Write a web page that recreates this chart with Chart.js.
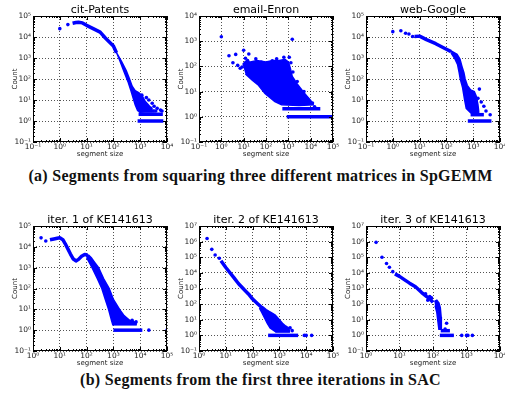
<!DOCTYPE html>
<html>
<head>
<meta charset="utf-8">
<script src="https://cdn.jsdelivr.net/npm/chart.js@4"></script>
<style>
  body { margin: 0; background: #fff; }
  #page { position: relative; width: 505px; height: 400px; overflow: hidden; background: #fff; }
  .box { position: absolute; }
  .ttl { position: absolute; width: 134px; height: 14px; line-height: 14px; text-align: center;
         font: 11px "DejaVu Sans"; color: #000; white-space: nowrap; }
  .cap { position: absolute; left: 8px; width: 505px; height: 18px; line-height: 18px; text-align: center;
         font: bold 16px "Liberation Serif"; color: #111; white-space: nowrap; }
  .cap span { display: inline-block; }
</style>
</head>
<body>
<div id="page">
  <div class="cap" style="top:167px"><span data-w="464">(a) Segments from squaring three different matrices in SpGEMM</span></div>
  <div class="cap" style="top:371px"><span data-w="361">(b) Segments from the first three iterations in SAC</span></div>
</div>
<script>
// decade ticks
const xTicksA = [0.1, 1, 10, 100, 1e3, 1e4];
const xTicksB = [0.1, 1, 10, 100, 1e3, 1e4, 1e5];
const xTicksC = [1, 10, 100, 1e3, 1e4, 1e5];
const xTicksD = [1, 10, 100, 1e3, 1e4];
const yTicksA = [0.1, 1, 10, 100, 1e3, 1e4, 1e5];
const yTicksB = [0.1, 1, 10, 100, 1e3, 1e4];
const yTicksC = [0.1, 1, 10, 100, 1e3, 1e4, 1e5, 1e6, 1e7];

// cit-Patents
const citDots = [[1, 2.5e4], [2, 3.9e4], [650, 15], [800, 20], [1150, 17], [1700, 13], [2100, 10],
  [2800, 7], [3300, 5], [4300, 4], [5700, 3.3], [6500, 3], [2500, 4], [3800, 3]];
const citCurve = [[3, 4.5e4], [4, 4.9e4], [5, 5e4], [7, 4.7e4], [10, 3.6e4], [20, 2.3e4],
  [32, 1.7e4], [50, 9e3], [100, 3.7e3], [130, 1.8e3]];
const citBlob = [[130, 1.8e3], [200, 700], [300, 250], [400, 100], [500, 45], [650, 28], [900, 22],
  [1200, 15], [1500, 9], [2000, 6], [2600, 4], [2600, 2.8], [1500, 2.8], [1000, 2.6], [800, 3.2],
  [650, 6], [550, 12], [450, 28], [350, 75], [250, 220], [170, 800], [120, 2.4e3]];
const citBands = [[[900, 3], [3500, 3]], [[870, 2.1], [7000, 2.1]], [[800, 1], [7300, 1]]];

// email-Enron
const enronDots = [[1, 1500], [1500, 1200], [2.2, 265], [4.4, 300], [3.3, 140], [5.4, 110], [7, 85],
  [8.5, 95], [10, 440], [12, 210], [17, 310], [15, 170], [25, 140], [35, 200], [62, 150], [190, 165],
  [300, 200], [630, 230], [1100, 230], [1300, 140], [1600, 60], [2500, 25], [5000, 10], [1.2e4, 3.5],
  [1.5e4, 2.5]];
const enronBlob = [[9, 120], [12, 160], [20, 150], [40, 170], [60, 160], [100, 150], [200, 170],
  [400, 170], [700, 190], [1000, 150], [1200, 90], [1500, 40], [2500, 20], [5000, 9], [1e4, 4.5],
  [1.3e4, 3], [3000, 2.8], [500, 3], [250, 4], [90, 8.5], [46, 18], [25, 28], [12, 50]];
const enronBands = [[[540, 2.1], [2.7e4, 2.1]], [[850, 1], [1e5, 1]]];

// web-Google
const webDots = [[1, 1.8e4], [2, 2e4], [3, 1.5e4], [4, 1.4e4], [5.5, 1.05e4], [1700, 33], [4300, 2],
  [2500, 5], [2000, 8], [1500, 12], [3000, 3]];
const webCurve = [[6.5, 1.05e4], [10, 1.1e4], [18, 7.5e3], [40, 4.8e3], [100, 2.6e3], [150, 2e3]];
const webBlob = [[150, 2.2e3], [250, 1.5e3], [320, 900], [380, 400], [450, 200], [500, 100], [600, 50],
  [800, 30], [1100, 25], [1300, 15], [1500, 6], [1600, 3], [1600, 2.5], [800, 2.5], [550, 4],
  [480, 10], [400, 40], [330, 100], [300, 200], [260, 500], [200, 1e3], [150, 1.7e3]];
const webBands = [[[800, 2], [2500, 2]], [[630, 1], [4800, 1]]];

// iter. 1 of KE141613
const it1Dots = [[2, 2.7e4], [3, 1.9e4], [2.1e4, 1], [1e5, 1], [5000, 3], [7000, 2.5]];
const it1Curve = [[4.3, 2.2e4], [6, 2.4e4], [8, 2.6e4], [10, 2.7e4], [13, 2.2e4], [16, 1.4e4],
  [20, 8e3], [25, 4.5e3], [32, 2.6e3], [40, 2.1e3], [50, 2.5e3], [65, 3.5e3], [85, 4.3e3], [110, 4e3]];
const it1Blob = [[90, 4.3e3], [120, 4e3], [150, 3e3], [200, 1.8e3], [280, 1e3], [430, 300], [700, 100],
  [1000, 30], [1700, 10], [2500, 5], [4000, 3], [7000, 2.3], [7000, 1.8], [950, 1.8], [850, 3],
  [660, 10], [500, 30], [370, 100], [250, 300], [160, 1e3], [120, 2e3], [100, 3e3]];
const it1Bands = [[[900, 2.1], [7300, 2.1]], [[1000, 1], [1.2e4, 1]]];

// iter. 2 of KE141613
const it2Dots = [[2, 1.6e6], [3, 3.2e5], [4, 1.4e5], [5.7, 8.7e4], [8500, 1], [1e4, 1], [1.6e4, 1],
  [3000, 2], [2500, 3]];
const it2Curve = [[6.6, 5.9e4], [10, 2.2e4], [20, 5e3], [30, 2e3], [50, 800], [70, 450], [100, 210],
  [150, 110], [200, 70]];
const it2Blob = [[180, 90], [250, 65], [320, 45], [400, 35], [500, 28], [700, 20], [1000, 10],
  [1300, 6], [1700, 4], [2200, 3], [2200, 1.8], [700, 1.8], [450, 3], [350, 6], [280, 13], [220, 30],
  [180, 55]];
const it2Bands = [[[700, 1.9], [2500, 1.9]], [[380, 1], [5000, 1]]];

// iter. 3 of KE141613
const it3Dots = [[2, 9e5], [3, 1e5], [4.1, 4e4], [5, 2.3e4], [6.3, 1.2e4], [255, 6], [230, 2.5],
  [720, 1], [1000, 1], [1100, 1], [1500, 1], [60, 450], [80, 300], [70, 180], [90, 250]];
const it3Curve = [[7.3, 8.6e3], [10, 6e3], [15, 3.3e3], [20, 2.2e3], [30, 1.3e3], [46, 550],
  [65, 300], [80, 220], [100, 130]];
const it3Blob = [[110, 150], [130, 180], [150, 120], [165, 60], [175, 15], [180, 4], [175, 2.5],
  [150, 2.5], [140, 8], [130, 30], [115, 80]];
const it3Bands = [[[170, 2], [320, 2]], [[160, 1], [420, 1]]];

const BLUE = "#0000ff";
const SUP = { "-": "\u207b", "0": "\u2070", "1": "\u00b9", "2": "\u00b2", "3": "\u00b3",
  "4": "\u2074", "5": "\u2075", "6": "\u2076", "7": "\u2077", "8": "\u2078", "9": "\u2079" };

function fmt(v) {
  const e = String(Math.round(Math.log10(v)));
  return "10" + e.split("").map((c) => SUP[c]).join("");
}

const panels = [
  { title: "cit-Patents", left: 33, top: 16, h: 126, xt: xTicksA, yt: yTicksA,
    dots: citDots, curve: citCurve, blob: citBlob, bands: citBands },
  { title: "email-Enron", left: 199, top: 16, h: 126, xt: xTicksB, yt: yTicksB,
    dots: enronDots, curve: null, blob: enronBlob, bands: enronBands },
  { title: "web-Google", left: 366, top: 16, h: 126, xt: xTicksA, yt: yTicksA,
    dots: webDots, curve: webCurve, blob: webBlob, bands: webBands },
  { title: "iter. 1 of KE141613", left: 33, top: 226, h: 125, xt: xTicksC, yt: yTicksA,
    dots: it1Dots, curve: it1Curve, blob: it1Blob, bands: it1Bands },
  { title: "iter. 2 of KE141613", left: 199, top: 226, h: 125, xt: xTicksC, yt: yTicksC,
    dots: it2Dots, curve: it2Curve, blob: it2Blob, bands: it2Bands },
  { title: "iter. 3 of KE141613", left: 366, top: 226, h: 125, xt: xTicksD, yt: yTicksC,
    dots: it3Dots, curve: it3Curve, blob: it3Blob, bands: it3Bands },
];

const toXY = (arr) => arr.map(([x, y]) => ({ x, y }));

// frame with matplotlib-style inward ticks
const framePlugin = {
  id: "frame",
  afterDatasetsDraw(chart) {
    const { ctx, chartArea: a, scales } = chart;
    ctx.save();
    ctx.strokeStyle = "#000";
    ctx.lineWidth = 1;
    ctx.strokeRect(a.left + 0.5, a.top + 0.5, a.right - a.left - 1, a.bottom - a.top - 1);
    ctx.beginPath();
    for (const id of ["x", "y"]) {
      const s = scales[id];
      const lo = Math.round(Math.log10(s.min));
      const hi = Math.round(Math.log10(s.max));
      for (let k = lo; k <= hi; k++) {
        for (let m = 1; m <= 9; m++) {
          const v = m * Math.pow(10, k);
          if (v > s.max * 1.0001) break;
          const p = Math.round(s.getPixelForValue(v)) + 0.5;
          const len = m === 1 ? 4 : 2;
          if (id === "x") {
            ctx.moveTo(p, a.bottom); ctx.lineTo(p, a.bottom - len);
            ctx.moveTo(p, a.top); ctx.lineTo(p, a.top + len);
          } else {
            ctx.moveTo(a.left, p); ctx.lineTo(a.left + len, p);
            ctx.moveTo(a.right, p); ctx.lineTo(a.right - len, p);
          }
        }
      }
    }
    ctx.stroke();
    ctx.restore();
  },
};

function axis(ticks, isX) {
  return {
    type: "logarithmic",
    min: ticks[0],
    max: ticks[ticks.length - 1],
    afterBuildTicks: (s) => { s.ticks = ticks.map((v) => ({ value: v })); },
    afterFit: (s) => { if (isX) s.height = 24; else s.width = 33; },
    ticks: {
      callback: (v) => fmt(v),
      autoSkip: false,
      maxRotation: 0,
      padding: isX ? 1 : 2,
      color: "#222",
      font: { family: "DejaVu Sans", size: 7.5 },
    },
    grid: { color: "rgba(0,0,0,0.85)", lineWidth: 0.8, drawTicks: false },
    border: { display: false, dash: [1, 2] },
    title: {
      display: true,
      text: isX ? "segment size" : "Count",
      color: "#222",
      font: { family: "DejaVu Sans", size: 7 },
      padding: isX ? { top: 0, bottom: 8 } : { top: 10.5, bottom: 0 },
    },
  };
}

const page = document.getElementById("page");

// stretch each caption to the width it has in the figure
document.querySelectorAll(".cap span").forEach((sp) => {
  const target = Number(sp.dataset.w);
  const w = sp.getBoundingClientRect().width;
  sp.style.letterSpacing = ((target - w) / sp.textContent.length).toFixed(2) + "px";
});

panels.forEach((p) => {
  const box = document.createElement("div");
  box.className = "box";
  box.style.left = (p.left - 33) + "px";
  box.style.top = (p.top - 16) + "px";
  const cv = document.createElement("canvas");
  cv.width = 33 + 134 + 10;
  cv.height = 16 + p.h + 24;
  box.appendChild(cv);
  page.appendChild(box);

  const ttl = document.createElement("div");
  ttl.className = "ttl";
  ttl.style.left = p.left + "px";
  ttl.style.top = (p.top - 13) + "px";
  ttl.textContent = p.title;
  page.appendChild(ttl);

  const datasets = [];
  datasets.push({ data: toXY(p.blob), showLine: true, fill: "shape", backgroundColor: BLUE,
    borderColor: BLUE, borderWidth: 1.5, pointRadius: 0 });
  if (p.curve) {
    datasets.push({ data: toXY(p.curve), showLine: true, fill: false, borderColor: BLUE,
      borderWidth: 3.5, borderJoinStyle: "round", pointRadius: 0 });
  }
  p.bands.forEach((b) => {
    datasets.push({ data: toXY(b), showLine: true, fill: false, borderColor: BLUE,
      borderWidth: 3.5, pointRadius: 0 });
  });
  datasets.push({ data: toXY(p.dots), showLine: false, backgroundColor: BLUE, borderWidth: 0,
    pointRadius: 1.8 });

  new Chart(cv, {
    type: "scatter",
    data: { datasets },
    options: {
      responsive: false,
      animation: false,
      layout: { padding: { top: 16, right: 10, left: 0, bottom: 0 } },
      plugins: { legend: { display: false }, tooltip: { enabled: false } },
      scales: { x: axis(p.xt, true), y: axis(p.yt, false) },
    },
    plugins: [framePlugin],
  });
});
</script>
</body>
</html>
